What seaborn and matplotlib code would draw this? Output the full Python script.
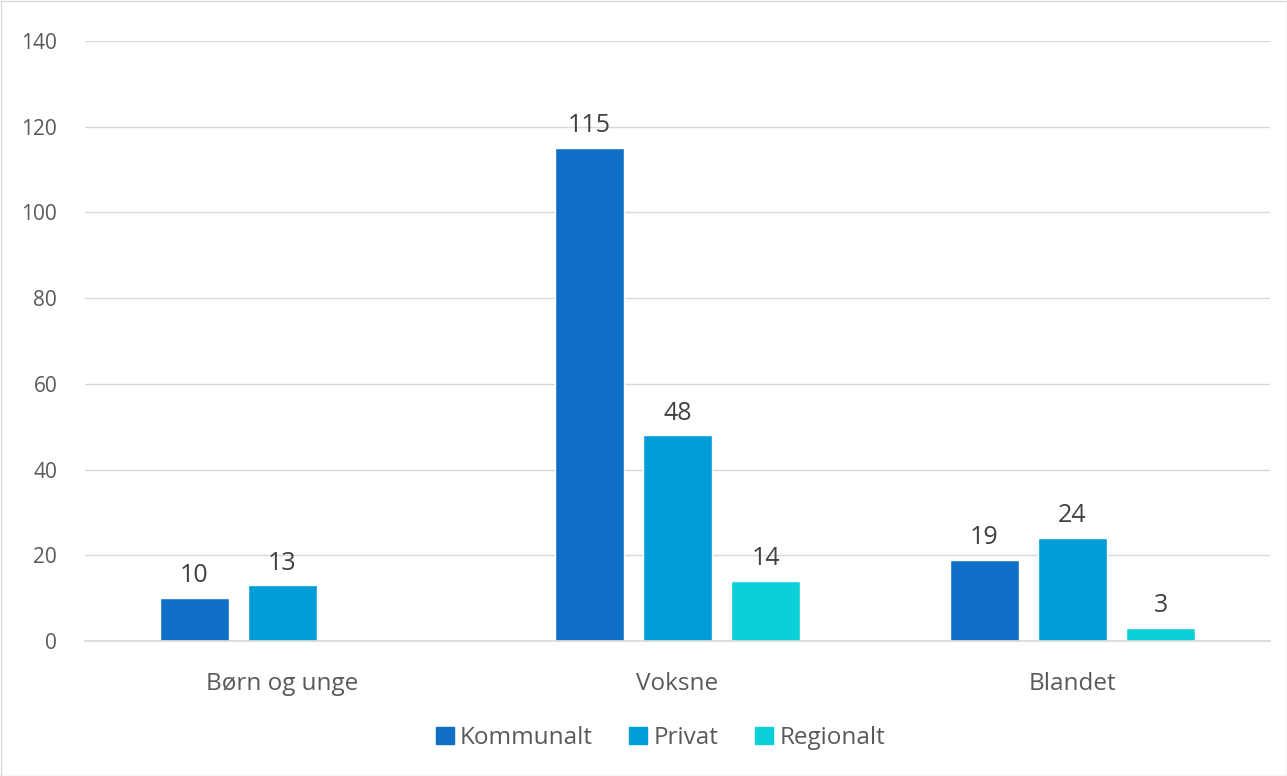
import pandas as pd
import numpy as np
import matplotlib
matplotlib.use('Agg')
import matplotlib.pyplot as plt
import seaborn as sns
from matplotlib.patches import Rectangle

# ---------- data ----------
CATEGORIES = ['Børn og unge', 'Voksne', 'Blandet']
SERIES = ['Kommunalt', 'Privat', 'Regionalt']
KOMMUNALT = [10, 115, 19]
PRIVAT = [13, 48, 24]
REGIONALT = [np.nan, 14, 3]
COLORS = ['#0F6FC6', '#009DD9', '#0BD0D9']

rows = []
for s, vals in zip(SERIES, [KOMMUNALT, PRIVAT, REGIONALT]):
    for c, v in zip(CATEGORIES, vals):
        rows.append({'kategori': c, 'type': s, 'antal': v})
df = pd.DataFrame(rows)

# ---------- plot ----------
sns.set_theme(style='white')
plt.rcParams['font.family'] = ['Open Sans', 'DejaVu Sans']

fig = plt.figure(figsize=(12.87, 7.76), dpi=100)
ax = fig.add_axes([85 / 1287, 135 / 776, 1185 / 1287, 600 / 776])

sns.barplot(data=df, x='kategori', y='antal', hue='type', order=CATEGORIES,
            hue_order=SERIES, palette=COLORS, width=0.67, gap=0.216,
            saturation=1, ax=ax, legend=False)

ax.set_ylim(0, 140)
ax.set_yticks(range(0, 141, 20))
ax.yaxis.grid(True, color='#D9D9D9', linewidth=1)
ax.set_axisbelow(True)
for side in ['top', 'right', 'left']:
    ax.spines[side].set_visible(False)
ax.spines['bottom'].set_color('#D9D9D9')
ax.set_xlabel('')
ax.set_ylabel('')
ax.tick_params(axis='y', labelsize=15, colors='#595959', length=0, pad=20)
ax.tick_params(axis='x', labelsize=17.5, colors='#595959', length=0, pad=22)

# value labels
for cont in ax.containers:
    labels = ['' if np.isnan(v) else f'{v:.0f}' for v in cont.datavalues]
    ax.bar_label(cont, labels=labels, padding=7, fontsize=18, color='#404040')

# legend
handles = [Rectangle((0, 0), 1, 1, color=c) for c in COLORS]
fig.legend(handles, SERIES, loc='center', bbox_to_anchor=(0.513, 38 / 776),
           ncol=3, frameon=False, fontsize=17.5, handlelength=0.75, handleheight=0.75,
           handletextpad=0.25, columnspacing=1.5, labelcolor='#595959')

# chart frame
fig.patches.append(Rectangle((0.5 / 1287, 0.5 / 776), 1 - 1 / 1287, 1 - 1 / 776,
                             transform=fig.transFigure, fill=False,
                             edgecolor='#D9D9D9', linewidth=1))

fig.savefig('out.png', dpi=100)
